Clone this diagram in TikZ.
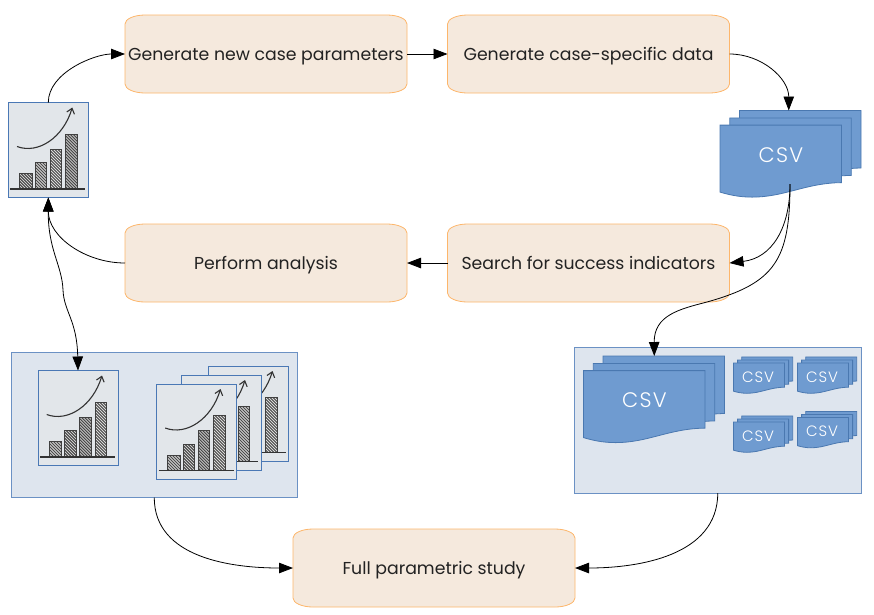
\documentclass[tikz,border=0pt]{standalone}
\usepackage{fontspec}
\setmainfont{Poppins}
\newfontfamily\csvfont[LetterSpace=6]{Poppins Light}
\usetikzlibrary{arrows.meta}
\definecolor{boxfill}{HTML}{F5E9DD}
\definecolor{boxline}{HTML}{FDB66B}
\definecolor{panelfill}{HTML}{DEE5EE}
\definecolor{panelline}{HTML}{6B91C4}
\definecolor{docfill}{HTML}{6F9BD0}
\definecolor{docline}{HTML}{4A78B0}
\definecolor{iconfill}{HTML}{E2E6EA}
\definecolor{iconline}{HTML}{4A78B5}
\definecolor{inktext}{HTML}{222222}
\tikzset{
  x=1pt,y=-1pt,
  holder/.style={inner sep=0pt,outer sep=0pt,anchor=north west},
  procbox/.style={holder,minimum width=282pt,minimum height=78pt,text=inktext,text height=12pt,text depth=0pt,font=\fontsize{17.3pt}{20pt}\selectfont},
  procshape/.style={fill=boxfill,draw=boxline,line width=.8pt},
  panelbox/.style={holder,fill=panelfill,draw=panelline,line width=.9pt},
  iconbox/.style={holder,minimum width=80pt,minimum height=95pt,fill=iconfill,draw=iconline,line width=.9pt},
  docshape/.style={fill=docfill,draw=docline,line width=.8pt},
  link/.style={draw=black,line width=.8pt,-{Triangle[length=14pt,width=10.5pt]}},
  duallink/.style={draw=black,line width=.8pt,{Triangle[length=14pt,width=10.5pt]}-{Triangle[length=14pt,width=10.5pt]}},
}
\newcommand\procnode[4]{%
  \begin{scope}[shift={(#2,#3)}]
    \path[procshape] (0,9) .. controls (0,4) and (9,0) .. (20,0) -- (262,0)
      .. controls (273,0) and (282,4) .. (282,9) -- (282,69)
      .. controls (282,74) and (273,78) .. (262,78) -- (20,78)
      .. controls (9,78) and (0,74) .. (0,69) -- cycle;
  \end{scope}
  \node[procbox] (#1) at (#2,#3) {#4};}
\newcommand\chartbar[3]{%
  \begin{scope}
    \clip (#1,#3) rectangle (#2,86.5);
    \fill[black!72] (#1,#3) rectangle (#2,86.5);
    \foreach \k in {-60,-57,...,30}
      \draw[white!85!black,line width=.75pt] (#1+\k,#3) -- ++(70,70);
  \end{scope}
  \draw[black!75,line width=.7pt] (#1,86.5) -- (#1,#3) -- (#2,#3) -- (#2,86.5);}
\newcommand\iconnode[3]{%
  \node[iconbox] (#1) at (#2,#3) {};
  \begin{scope}[shift={(#2,#3)}]
    \chartbar{11}{23.7}{71}
    \chartbar{26.7}{38.2}{60}
    \chartbar{41.7}{53.2}{46.5}
    \chartbar{57}{68.7}{31.5}
    \draw[black!80,line width=1.1pt] (2,86.5) -- (77,86.5);
    \draw[black!80,line width=1.1pt,-{Straight Barb[length=5pt,width=8pt]}] (8.7,44) .. controls (30,52) and (55,35) .. (64,5);
  \end{scope}}
\newcommand\docpage[3]{%
  \begin{scope}[shift={({#1},{#2})},scale=#3]
    \path[docshape] (0,0) -- (121.5,0) -- (121.5,57.5) .. controls (85,58) and (65,72) .. (32,72) .. controls (20,72) and (10,70) .. (0,67) -- cycle;
  \end{scope}}
% name, x, y, scale, font size
\newcommand\csvstack[5]{%
  \docpage{#2+19.5*#4}{#3}{#4}
  \docpage{#2+9.75*#4}{#3+7.4*#4}{#4}
  \docpage{#2}{#3+14.6*#4}{#4}
  \node[holder,minimum width=141.5*#4,minimum height=86.6*#4] (#1) at (#2,#3) {};
  \node[text=white,inner sep=0pt,font=\csvfont\fontsize{#5}{#5}\selectfont] (#1t) at ({#2+61*#4-1.8*(1-#4)},{#3+44.6*#4+2.4*(1-#4)}) {CSV};}
\begin{document}
\begin{tikzpicture}
\useasboundingbox (0,0) rectangle (874,614);
% panels
\node[panelbox,minimum width=286.5pt,minimum height=145.5pt] (panelA) at (11,352) {};
\node[panelbox,minimum width=286.5pt,minimum height=145.5pt] (panelB) at (574.5,347.5) {};
% process boxes
\procnode{gen}{125}{15}{Generate new case parameters}
\procnode{data}{447.5}{15}{Generate case-specific data}
\procnode{search}{447.5}{224}{Search for success indicators}
\procnode{perform}{125}{224}{Perform analysis}
\procnode{full}{293}{529}{Full parametric study}
% icons
\iconnode{icon}{8.3}{102.5}
\iconnode{iconA}{38}{370.5}
\iconnode{iconC}{208.5}{366}
\iconnode{iconB}{181}{375}
\iconnode{iconD}{156.5}{384}
% csv stacks
\csvstack{csv}{720}{110.5}{1}{21pt}
\csvstack{csvbig}{583.5}{356}{1}{21pt}
\csvstack{csvs}{733.5}{356.9}{.42}{15pt}
\csvstack{csvt}{797.5}{356.9}{.42}{15pt}
\csvstack{csvu}{733.5}{415.9}{.42}{15pt}
\csvstack{csvv}{797.5}{411.4}{.42}{15pt}
\coordinate (csvout) at (790,184);
% connectors
\draw[link] (icon.north) to[out=90,in=180,looseness=.85] (gen.west);
\draw[link] (gen.east) -- (data.west);
\draw[link] (data.east) to[out=0,in=90] ([xshift=-2pt]csv.north);
\draw[link] (csvout) .. controls (790,228) and (772,258) .. (search.east);
\draw[link] (csvout) .. controls (790,260) and (775,283) .. (707,302) .. controls (680,309) and (654,315) .. (csvbig.north);
\draw[link] (search.west) -- (perform.east);
\draw[link] (perform.west) to[out=180,in=-90] (icon.south);
\draw[duallink] (icon.south) .. controls (48,250) and (62,265) .. (63,290) .. controls (64,312) and (77,320) .. (iconA.north);
\draw[link] (panelA.south) to[out=-90,in=180] (full.west);
\draw[link] (panelB.south) to[out=-90,in=0] (full.east);
\end{tikzpicture}
\end{document}
